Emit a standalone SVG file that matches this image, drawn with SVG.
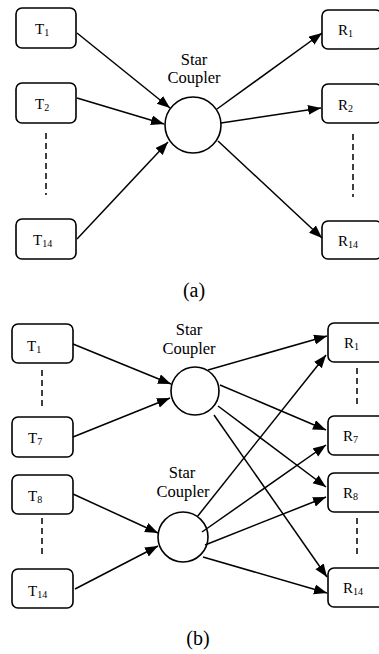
<svg xmlns="http://www.w3.org/2000/svg" width="379" height="654" viewBox="0 0 379 654" font-family="'Liberation Serif', 'DejaVu Serif', serif">
  <style>
    .box { fill: #fff; stroke: #000; stroke-width: 1.6; }
    .hub { fill: #fff; stroke: #000; stroke-width: 1.6; }
    text { font-family: 'Liberation Serif', 'DejaVu Serif', serif; fill: #000; }
    .lbl { font-size: 15px; }
    .sub { font-size: 10px; }
    .cap { font-size: 16.5px; text-anchor: middle; }
    .fig { font-size: 20px; text-anchor: middle; }
    .edge { stroke: #000; stroke-width: 1.5; fill: none; marker-end: url(#arrow); }
    .dots { stroke: #000; stroke-width: 1.5; stroke-dasharray: 6 4; fill: none; }
  </style>
  <defs>
    <marker id="arrow" markerUnits="userSpaceOnUse" markerWidth="15" markerHeight="12" refX="13" refY="5" orient="auto">
      <path d="M0,0 L13,5 L0,10 Z" fill="#000"/>
    </marker>
  </defs>
  <rect width="379" height="654" fill="#fff"/>

  <!-- (a): single star coupler -->
  <g id="a-T1"><rect class="box" x="16" y="8" width="60" height="40" rx="6"/><text class="lbl" x="35" y="34">T<tspan class="sub" dy="2">1</tspan></text></g>
  <g id="a-T2"><rect class="box" x="16" y="83" width="60" height="40" rx="6"/><text class="lbl" x="35" y="109">T<tspan class="sub" dy="2">2</tspan></text></g>
  <g id="a-T14"><rect class="box" x="16" y="219" width="60" height="40" rx="6"/><text class="lbl" x="33" y="245">T<tspan class="sub" dy="2">14</tspan></text></g>
  <g id="a-hub">
    <text class="cap" x="194" y="65">Star</text>
    <text class="cap" x="194" y="83">Coupler</text>
    <circle class="hub" cx="193" cy="125" r="28"/>
  </g>
  <g id="a-R1"><rect class="box" x="322" y="10" width="60" height="39" rx="6"/><text class="lbl" x="338" y="35">R<tspan class="sub" dy="2">1</tspan></text></g>
  <g id="a-R2"><rect class="box" x="322" y="84" width="60" height="39" rx="6"/><text class="lbl" x="338" y="110">R<tspan class="sub" dy="2">2</tspan></text></g>
  <g id="a-R14"><rect class="box" x="322" y="221" width="60" height="38" rx="6"/><text class="lbl" x="338" y="246">R<tspan class="sub" dy="2">14</tspan></text></g>
  <text id="a-caption" class="fig" x="194" y="297">(a)</text>

  <!-- (b): two star couplers -->
  <g id="b-T1"><rect class="box" x="12" y="324" width="61" height="39" rx="6"/><text class="lbl" x="27" y="351">T<tspan class="sub" dy="2">1</tspan></text></g>
  <g id="b-T7"><rect class="box" x="12" y="417" width="61" height="40" rx="6"/><text class="lbl" x="28" y="443">T<tspan class="sub" dy="2">7</tspan></text></g>
  <g id="b-T8"><rect class="box" x="12" y="475" width="61" height="39" rx="6"/><text class="lbl" x="28" y="501">T<tspan class="sub" dy="2">8</tspan></text></g>
  <g id="b-T14"><rect class="box" x="12" y="569" width="61" height="39" rx="6"/><text class="lbl" x="28" y="596">T<tspan class="sub" dy="2">14</tspan></text></g>
  <g id="b-hub1">
    <text class="cap" x="189" y="335">Star</text>
    <text class="cap" x="189" y="354">Coupler</text>
    <circle class="hub" cx="195" cy="391" r="24"/>
  </g>
  <g id="b-hub2">
    <text class="cap" x="182" y="478">Star</text>
    <text class="cap" x="183" y="497">Coupler</text>
    <circle class="hub" cx="183" cy="537" r="25"/>
  </g>
  <g id="b-R1"><rect class="box" x="328" y="323" width="60" height="39" rx="6"/><text class="lbl" x="344" y="348">R<tspan class="sub" dy="2">1</tspan></text></g>
  <g id="b-R7"><rect class="box" x="328" y="416" width="60" height="39" rx="6"/><text class="lbl" x="343" y="441">R<tspan class="sub" dy="2">7</tspan></text></g>
  <g id="b-R8"><rect class="box" x="328" y="473" width="60" height="39" rx="6"/><text class="lbl" x="343" y="498">R<tspan class="sub" dy="2">8</tspan></text></g>
  <g id="b-R14"><rect class="box" x="328" y="568" width="60" height="39" rx="6"/><text class="lbl" x="343" y="593">R<tspan class="sub" dy="2">14</tspan></text></g>
  <text id="b-caption" class="fig" x="198" y="645">(b)</text>

  <g id="connectors">
    <!-- (a) elided ports -->
    <line class="dots" x1="46" y1="133" x2="46" y2="195"/>
    <line class="dots" x1="353" y1="134" x2="353" y2="197"/>
    <!-- (a) inputs -->
    <line class="edge" x1="77" y1="33" x2="170" y2="108"/>
    <line class="edge" x1="77" y1="98" x2="164" y2="124"/>
    <line class="edge" x1="77" y1="239" x2="168" y2="142"/>
    <!-- (a) outputs -->
    <line class="edge" x1="217" y1="109" x2="322" y2="33"/>
    <line class="edge" x1="221" y1="123" x2="321" y2="108"/>
    <line class="edge" x1="218" y1="141" x2="322" y2="238"/>

    <!-- (b) elided ports -->
    <line class="dots" x1="42" y1="370" x2="42" y2="410"/>
    <line class="dots" x1="42" y1="518" x2="42" y2="558"/>
    <line class="dots" x1="357" y1="368" x2="357" y2="408"/>
    <line class="dots" x1="357" y1="518" x2="357" y2="558"/>
    <!-- (b) inputs -->
    <line class="edge" x1="73" y1="344" x2="171" y2="384"/>
    <line class="edge" x1="73" y1="437" x2="170" y2="398"/>
    <line class="edge" x1="73" y1="494" x2="158" y2="533"/>
    <line class="edge" x1="75" y1="589" x2="158" y2="546"/>
    <!-- (b) outputs from the upper coupler -->
    <line class="edge" x1="208" y1="370" x2="327" y2="336"/>
    <line class="edge" x1="220" y1="385" x2="326" y2="430"/>
    <line class="edge" x1="218" y1="406" x2="326" y2="487"/>
    <line class="edge" x1="214" y1="415" x2="327" y2="577"/>
    <!-- (b) outputs from the lower coupler -->
    <line class="edge" x1="197" y1="517" x2="326" y2="355"/>
    <line class="edge" x1="202" y1="532" x2="326" y2="445"/>
    <line class="edge" x1="205" y1="545" x2="326" y2="497"/>
    <line class="edge" x1="203" y1="557" x2="327" y2="593"/>
  </g>
</svg>
